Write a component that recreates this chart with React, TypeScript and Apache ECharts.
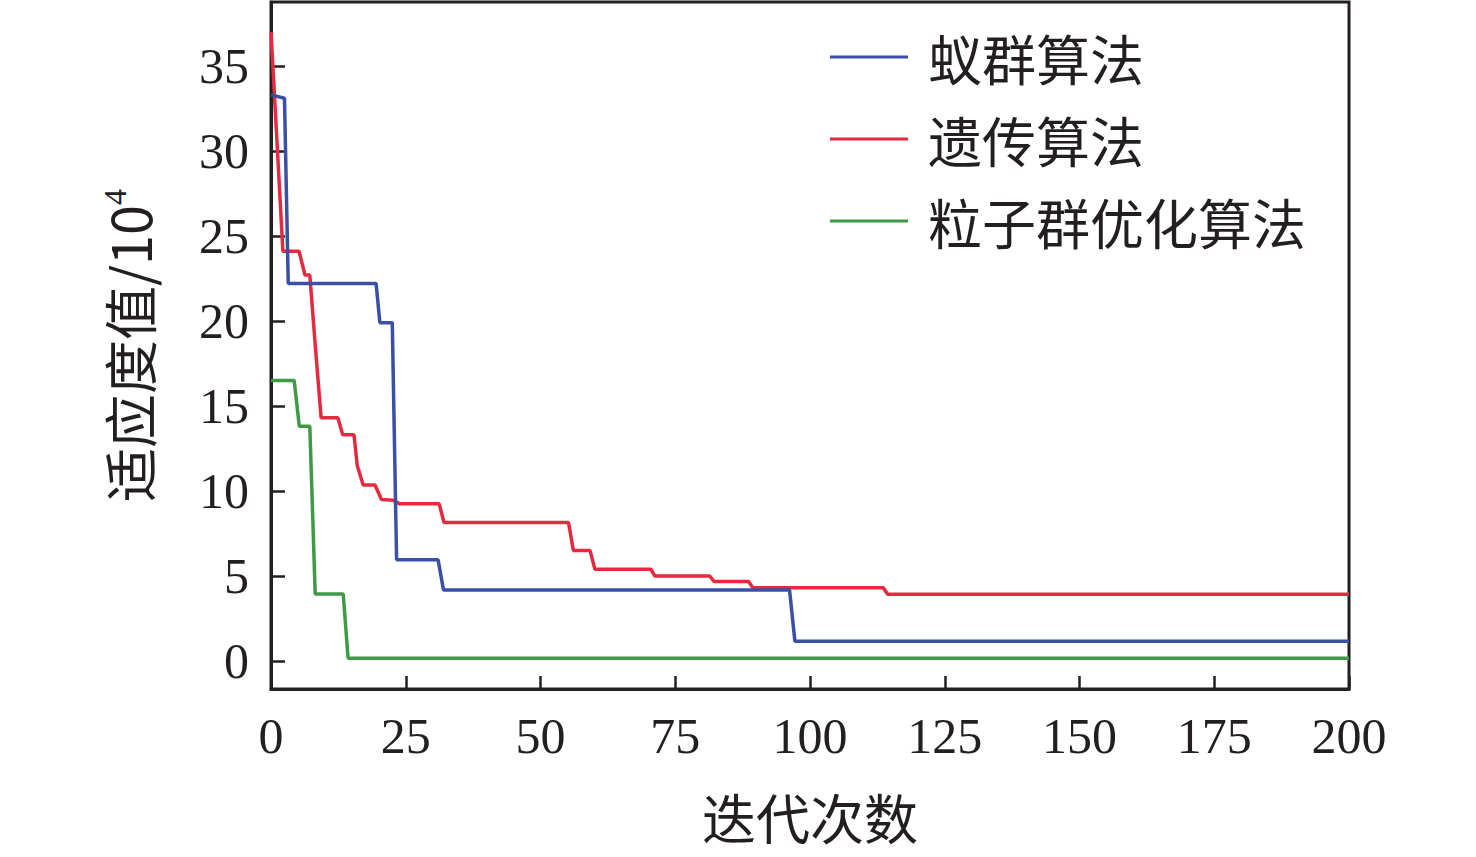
import React, { useEffect, useRef } from "react";
import * as echarts from "echarts";

const seriesNames = ["蚁群算法", "遗传算法", "粒子群优化算法"];
const seriesColors = ["#3a4fa6", "#e52a3f", "#3f9a45"];

const antColony: [number, number][] = [
  [0, 33.3], [2.5, 33.1], [3.2, 22.2], [19.5, 22.2], [20.2, 19.9], [22.5, 19.9],
  [23.3, 5.95], [31, 5.95], [32, 4.18], [96.2, 4.18], [97.2, 1.16], [200, 1.16],
];

const genetic: [number, number][] = [
  [0, 37], [1.2, 30], [2.2, 24.1], [5.2, 24.1], [6.3, 22.7], [7.2, 22.7], [8.2, 18.6],
  [9.3, 14.3], [12.4, 14.3], [13.3, 13.3], [15.4, 13.3], [16.0, 11.5], [17.1, 10.35],
  [19.3, 10.35], [20.5, 9.5], [22.7, 9.45], [23.9, 9.24], [31.2, 9.24], [32.1, 8.14],
  [55.2, 8.14], [56.1, 6.49], [59.2, 6.49], [60.1, 5.39], [70.5, 5.39], [71.2, 5.0],
  [81.4, 5.0], [82.2, 4.67], [88.6, 4.67], [89.4, 4.31], [113.6, 4.31], [114.4, 3.92],
  [200, 3.92],
];

const pso: [number, number][] = [
  [0, 16.5], [4.3, 16.5], [5.25, 13.8], [7.2, 13.8], [8.2, 3.94], [13.4, 3.94],
  [14.3, 0.16], [200, 0.16],
];

const yTicks = [0, 5, 10, 15, 20, 25, 30, 35];
const xTicks = [0, 25, 50, 75, 100, 125, 150, 175, 200];

const textColor = "#231f20";
const numFont = "'Liberation Serif', 'Noto Sans CJK SC', serif";

export default function App() {
  const ref = useRef<HTMLDivElement>(null);
  useEffect(() => {
    if (!ref.current) return;
    const chart = echarts.init(ref.current, undefined, { renderer: "svg" });
    const data = [antColony, genetic, pso];
    chart.setOption({
      animation: false,
      backgroundColor: "#ffffff",
      grid: {
        left: 271,
        right: 127,
        top: 2,
        bottom: 168,
        show: true,
        borderColor: textColor,
        borderWidth: 3,
        containLabel: false,
        outerBoundsMode: "none",
      },
      legend: {
        orient: "vertical",
        left: 830,
        top: 29,
        padding: 0,
        itemWidth: 78,
        itemHeight: 3,
        itemGap: 26,
        icon: "rect",
        data: seriesNames,
        textStyle: {
          fontFamily: "'Noto Sans CJK SC', sans-serif",
          fontSize: 54,
          color: textColor,
          padding: [0, 0, 0, 15],
          lineHeight: 56,
        },
      },
      xAxis: {
        type: "value",
        min: 0,
        max: 200,
        interval: 25,
        name: "迭代次数",
        nameLocation: "middle",
        nameGap: 100,
        nameTextStyle: {
          fontFamily: "'Noto Sans CJK SC', sans-serif",
          fontSize: 54,
          color: textColor,
        },
        axisLine: { show: true, onZero: false, lineStyle: { color: textColor, width: 3 } },
        axisTick: { show: true, inside: true, length: 13, lineStyle: { color: textColor, width: 2.5 } },
        axisLabel: {
          margin: 22,
          fontFamily: numFont,
          fontSize: 50,
          color: textColor,
          customValues: xTicks,
        },
        splitLine: { show: false },
      },
      yAxis: {
        type: "value",
        min: -1.65,
        max: 38.76,
        name: "{a|适应度值/10}{b|4}",
        nameLocation: "middle",
        nameRotate: 90,
        nameGap: 114,
        nameTextStyle: {
          color: textColor,
          rich: {
            a: {
              fontFamily: "'Noto Sans CJK SC', 'Liberation Serif', sans-serif",
              fontSize: 54,
              color: textColor,
              lineHeight: 58,
            },
            b: {
              fontFamily: numFont,
              fontSize: 32,
              color: textColor,
              verticalAlign: "top",
              lineHeight: 58,
              padding: [0, 0, 24, 0],
            },
          },
        },
        axisLine: { show: true, onZero: false, lineStyle: { color: textColor, width: 3 } },
        axisTick: {
          show: true,
          inside: true,
          length: 14,
          lineStyle: { color: textColor, width: 2.5 },
          customValues: yTicks,
        },
        axisLabel: {
          margin: 22,
          fontFamily: numFont,
          fontSize: 50,
          color: textColor,
          customValues: yTicks,
        },
        splitLine: { show: false },
      },
      series: seriesNames.map((name, i) => ({
        name,
        type: "line",
        data: data[i],
        showSymbol: false,
        symbol: "none",
        lineStyle: { color: seriesColors[i], width: 3.5 },
        itemStyle: { color: seriesColors[i] },
        z: 3 - i,
      })),
    });
    return () => chart.dispose();
  }, []);
  return (
    <div
      ref={ref}
      style={{ position: "fixed", left: 0, top: 0, width: 1476, height: 857 }}
    />
  );
}
